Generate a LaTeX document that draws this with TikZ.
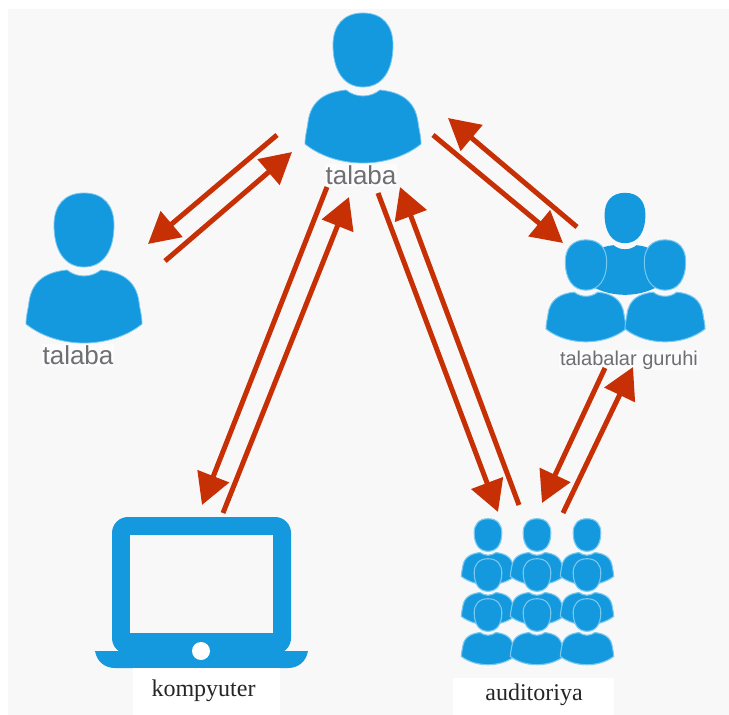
\documentclass[tikz,border=0pt]{standalone}
\usepackage{fontspec}
\setmainfont{Liberation Serif}
\setsansfont{Liberation Sans}
\usepackage{xcolor}
\usetikzlibrary{arrows.meta, positioning}
\definecolor{iconblue}{RGB}{20, 153, 223}
\definecolor{iconedge}{RGB}{120, 200, 240}
\definecolor{flowred}{RGB}{198, 48, 4}
\definecolor{pagegray}{RGB}{248, 248, 249}
\definecolor{labelgray}{RGB}{110, 110, 115}

\begin{document}
\begin{tikzpicture}[
    x=1pt, y=-1pt,
    flow/.style={draw=flowred, line width=5pt, -{Triangle[length=31pt, width=33pt]}},
    graylabel/.style={font=\sffamily\fontsize{26}{26}\selectfont, text=labelgray, fill=white, fill opacity=0.6, text opacity=1, inner sep=1pt},
    printlabel/.style={font=\fontsize{24}{24}\selectfont, text=black!85, inner sep=0pt},
    iconbox/.style={inner sep=0pt, minimum width=#1},
    person/.pic={
        \path[fill=iconblue, pic actions] (0,-37) .. controls (20,-37) and (30,-24) .. (30,-5)
            .. controls (30,21) and (19,37) .. (0,37) .. controls (-19,37) and (-30,21) .. (-30,-5)
            .. controls (-30,-24) and (-20,-37) .. (0,-37) -- cycle;
        \path[fill=iconblue, pic actions] (-17,40) .. controls (-12,44) and (-6,46) .. (0,46)
            .. controls (6,46) and (12,44) .. (17,40) .. controls (37,42) and (52,50) .. (55,72)
            .. controls (56,80) and (58,86) .. (58,94) .. controls (42,107) and (20,113) .. (0,113)
            .. controls (-20,113) and (-42,107) .. (-58,94) .. controls (-58,86) and (-56,80) .. (-55,72)
            .. controls (-52,50) and (-37,42) .. (-17,40) -- cycle;
    }
]
    \useasboundingbox (0,0) rectangle (729,715);
    \fill[white] (0,0) rectangle (729,715);
    \fill[pagegray] (8,9) rectangle (729,715);

    % Top student
    \pic[draw=iconedge, line width=0.8pt] at (363,50) {person};
    \node[iconbox=114pt, minimum height=150pt] (topstudent) at (363,88) {};
    \node[graylabel] (toplabel) at (361,175) {talaba};

    % Left student
    \pic[draw=iconedge, line width=0.8pt] at (84,230) {person};
    \node[iconbox=114pt, minimum height=150pt] (leftstudent) at (84,268) {};
    \node[graylabel] (leftlabel) at (78,355) {talaba};

    % Student group
    \pic[scale=0.68] at (625,218) {person};
    \pic[draw=iconedge, line width=1pt, xscale=0.69, yscale=0.68] at (586,265) {person};
    \pic[draw=iconedge, line width=1pt, xscale=0.69, yscale=0.68] at (665,265) {person};
    \node[iconbox=160pt, minimum height=150pt] (group) at (625,268) {};
    \node[graylabel, font=\sffamily\fontsize{20}{20}\selectfont] (grouplabel) at (629,360) {talabalar guruhi};

    % Laptop
    \fill[iconblue, rounded corners=16pt] (112,517) rectangle (291,654);
    \fill[iconblue] (95,651) -- (308,651) .. controls (306,662) and (298,668) .. (288,668)
        -- (115,668) .. controls (105,668) and (97,662) .. (95,651) -- cycle;
    \fill[pagegray] (130,535) rectangle (273,633);
    \fill[white] (201,651) circle (9);
    \node[iconbox=213pt, minimum height=151pt] (laptop) at (201,592) {};
    \fill[white] (133,668) rectangle (280,715);
    \node[printlabel] (laptoplabel) at (203.5,691) {kompyuter};

    % Lecture hall
    \foreach \row in {535, 575, 615}
        \foreach \col in {488, 537, 587}
            \pic[draw=iconedge, line width=1.1pt, xscale=0.46, yscale=0.44] at (\col,\row) {person};
    \node[iconbox=150pt, minimum height=148pt] (hall) at (537,591) {};
    \fill[white] (453,678) rectangle (614,715);
    \node[printlabel] (halllabel) at (534,695) {auditoriya};

    % Flows
    \draw[flow] ([shift={(-86,47)}]topstudent.center) -- ([shift={(64,-24)}]leftstudent.center);
    \draw[flow] ([shift={(81,-7)}]leftstudent.center) -- ([shift={(-71,64)}]topstudent.center);
    \draw[flow] ([shift={(70,47)}]topstudent.center) -- ([shift={(-62,-25)}]group.center);
    \draw[flow] ([shift={(-48,-41)}]group.center) -- ([shift={(85,30)}]topstudent.center);
    \draw[flow] ([shift={(-36,99)}]topstudent.center) -- ([shift={(1,-87)}]laptop.center);
    \draw[flow] ([shift={(22,-79)}]laptop.center) -- ([shift={(-14,109)}]topstudent.center);
    \draw[flow] ([shift={(15,105)}]topstudent.center) -- ([shift={(-39,-79)}]hall.center);
    \draw[flow] ([shift={(-18,-86)}]hall.center) -- ([shift={(37,99)}]topstudent.center);
    \draw[flow] ([shift={(-20,100)}]group.center) -- ([shift={(5,-88)}]hall.center);
    \draw[flow] ([shift={(26,-78)}]hall.center) -- ([shift={(8,99)}]group.center);
\end{tikzpicture}
\end{document}
